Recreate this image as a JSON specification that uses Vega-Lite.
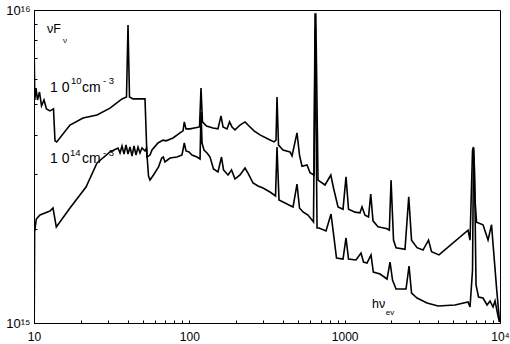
{
  "$schema": "https://vega.github.io/schema/vega-lite/v6.json",
  "width": 466,
  "height": 313,
  "autosize": "none",
  "padding": {"left": 34, "top": 10, "right": 10, "bottom": 21},
  "background": "white",
  "config": {
    "view": {"stroke": "black", "strokeWidth": 1},
    "font": "Liberation Sans"
  },
  "datasets": {
    "spectra": [
      {"eV": 10.04, "nuFnu": 6.92e15, "density": "1e10"},
      {"eV": 10.12, "nuFnu": 5.16e15, "density": "1e10"},
      {"eV": 10.30, "nuFnu": 5.63e15, "density": "1e10"},
      {"eV": 10.53, "nuFnu": 5.16e15, "density": "1e10"},
      {"eV": 10.85, "nuFnu": 5.47e15, "density": "1e10"},
      {"eV": 11.18, "nuFnu": 4.94e15, "density": "1e10"},
      {"eV": 11.60, "nuFnu": 5.16e15, "density": "1e10"},
      {"eV": 12.03, "nuFnu": 4.83e15, "density": "1e10"},
      {"eV": 12.67, "nuFnu": 4.76e15, "density": "1e10"},
      {"eV": 13.35, "nuFnu": 4.83e15, "density": "1e10"},
      {"eV": 13.65, "nuFnu": 3.82e15, "density": "1e10"},
      {"eV": 14.00, "nuFnu": 3.79e15, "density": "1e10"},
      {"eV": 17.05, "nuFnu": 4.29e15, "density": "1e10"},
      {"eV": 20.68, "nuFnu": 4.52e15, "density": "1e10"},
      {"eV": 25.45, "nuFnu": 4.62e15, "density": "1e10"},
      {"eV": 30.85, "nuFnu": 4.86e15, "density": "1e10"},
      {"eV": 36.86, "nuFnu": 5.20e15, "density": "1e10"},
      {"eV": 39.40, "nuFnu": 5.27e15, "density": "1e10"},
      {"eV": 40.29, "nuFnu": 8.96e15, "density": "1e10"},
      {"eV": 41.19, "nuFnu": 5.27e15, "density": "1e10"},
      {"eV": 43.40, "nuFnu": 5.20e15, "density": "1e10"},
      {"eV": 51.83, "nuFnu": 5.20e15, "density": "1e10"},
      {"eV": 53.39, "nuFnu": 3.39e15, "density": "1e10"},
      {"eV": 55.83, "nuFnu": 3.44e15, "density": "1e10"},
      {"eV": 57.50, "nuFnu": 3.57e15, "density": "1e10"},
      {"eV": 62.85, "nuFnu": 3.76e15, "density": "1e10"},
      {"eV": 67.70, "nuFnu": 3.84e15, "density": "1e10"},
      {"eV": 70.77, "nuFnu": 3.82e15, "density": "1e10"},
      {"eV": 78.50, "nuFnu": 3.90e15, "density": "1e10"},
      {"eV": 87.10, "nuFnu": 4.05e15, "density": "1e10"},
      {"eV": 91.07, "nuFnu": 4.11e15, "density": "1e10"},
      {"eV": 92.83, "nuFnu": 4.39e15, "density": "1e10"},
      {"eV": 95.20, "nuFnu": 4.17e15, "density": "1e10"},
      {"eV": 101.0, "nuFnu": 4.17e15, "density": "1e10"},
      {"eV": 116.3, "nuFnu": 4.23e15, "density": "1e10"},
      {"eV": 118.9, "nuFnu": 5.63e15, "density": "1e10"},
      {"eV": 121.5, "nuFnu": 4.39e15, "density": "1e10"},
      {"eV": 129.0, "nuFnu": 4.26e15, "density": "1e10"},
      {"eV": 142.0, "nuFnu": 4.20e15, "density": "1e10"},
      {"eV": 152.9, "nuFnu": 4.17e15, "density": "1e10"},
      {"eV": 159.9, "nuFnu": 4.59e15, "density": "1e10"},
      {"eV": 164.8, "nuFnu": 4.23e15, "density": "1e10"},
      {"eV": 174.8, "nuFnu": 4.17e15, "density": "1e10"},
      {"eV": 181.4, "nuFnu": 4.39e15, "density": "1e10"},
      {"eV": 188.3, "nuFnu": 4.23e15, "density": "1e10"},
      {"eV": 196.8, "nuFnu": 4.14e15, "density": "1e10"},
      {"eV": 212.0, "nuFnu": 4.29e15, "density": "1e10"},
      {"eV": 228.3, "nuFnu": 4.39e15, "density": "1e10"},
      {"eV": 242.3, "nuFnu": 4.26e15, "density": "1e10"},
      {"eV": 260.9, "nuFnu": 4.11e15, "density": "1e10"},
      {"eV": 285.1, "nuFnu": 3.99e15, "density": "1e10"},
      {"eV": 321.0, "nuFnu": 3.87e15, "density": "1e10"},
      {"eV": 350.9, "nuFnu": 3.79e15, "density": "1e10"},
      {"eV": 361.4, "nuFnu": 3.84e15, "density": "1e10"},
      {"eV": 366.8, "nuFnu": 5.27e15, "density": "1e10"},
      {"eV": 375.1, "nuFnu": 3.70e15, "density": "1e10"},
      {"eV": 401.0, "nuFnu": 3.57e15, "density": "1e10"},
      {"eV": 444.8, "nuFnu": 3.52e15, "density": "1e10"},
      {"eV": 458.2, "nuFnu": 3.42e15, "density": "1e10"},
      {"eV": 493.4, "nuFnu": 4.05e15, "density": "1e10"},
      {"eV": 512.0, "nuFnu": 3.44e15, "density": "1e10"},
      {"eV": 531.3, "nuFnu": 3.17e15, "density": "1e10"},
      {"eV": 572.4, "nuFnu": 3.20e15, "density": "1e10"},
      {"eV": 598.4, "nuFnu": 3.02e15, "density": "1e10"},
      {"eV": 635.0, "nuFnu": 2.97e15, "density": "1e10"},
      {"eV": 644.5, "nuFnu": 9.70e15, "density": "1e10"},
      {"eV": 652.0, "nuFnu": 9.70e15, "density": "1e10"},
      {"eV": 673.8, "nuFnu": 2.86e15, "density": "1e10"},
      {"eV": 747.3, "nuFnu": 2.76e15, "density": "1e10"},
      {"eV": 814.3, "nuFnu": 2.97e15, "density": "1e10"},
      {"eV": 847.6, "nuFnu": 2.70e15, "density": "1e10"},
      {"eV": 906.2, "nuFnu": 2.35e15, "density": "1e10"},
      {"eV": 976.0, "nuFnu": 2.31e15, "density": "1e10"},
      {"eV": 1020, "nuFnu": 2.93e15, "density": "1e10"},
      {"eV": 1059, "nuFnu": 2.31e15, "density": "1e10"},
      {"eV": 1166, "nuFnu": 2.26e15, "density": "1e10"},
      {"eV": 1255, "nuFnu": 2.25e15, "density": "1e10"},
      {"eV": 1293, "nuFnu": 2.35e15, "density": "1e10"},
      {"eV": 1352, "nuFnu": 2.21e15, "density": "1e10"},
      {"eV": 1424, "nuFnu": 2.18e15, "density": "1e10"},
      {"eV": 1472, "nuFnu": 2.58e15, "density": "1e10"},
      {"eV": 1522, "nuFnu": 2.12e15, "density": "1e10"},
      {"eV": 1639, "nuFnu": 2.03e15, "density": "1e10"},
      {"eV": 1874, "nuFnu": 2.00e15, "density": "1e10"},
      {"eV": 1939, "nuFnu": 1.98e15, "density": "1e10"},
      {"eV": 1989, "nuFnu": 2.86e15, "density": "1e10"},
      {"eV": 2063, "nuFnu": 1.84e15, "density": "1e10"},
      {"eV": 2141, "nuFnu": 1.74e15, "density": "1e10"},
      {"eV": 2446, "nuFnu": 1.72e15, "density": "1e10"},
      {"eV": 2585, "nuFnu": 2.53e15, "density": "1e10"},
      {"eV": 2695, "nuFnu": 1.84e15, "density": "1e10"},
      {"eV": 2923, "nuFnu": 1.74e15, "density": "1e10"},
      {"eV": 3194, "nuFnu": 1.71e15, "density": "1e10"},
      {"eV": 3466, "nuFnu": 1.84e15, "density": "1e10"},
      {"eV": 3624, "nuFnu": 1.69e15, "density": "1e10"},
      {"eV": 4050, "nuFnu": 1.65e15, "density": "1e10"},
      {"eV": 6225, "nuFnu": 1.98e15, "density": "1e10"},
      {"eV": 6412, "nuFnu": 1.84e15, "density": "1e10"},
      {"eV": 6655, "nuFnu": 3.57e15, "density": "1e10"},
      {"eV": 6754, "nuFnu": 3.65e15, "density": "1e10"},
      {"eV": 6907, "nuFnu": 2.47e15, "density": "1e10"},
      {"eV": 7061, "nuFnu": 2.10e15, "density": "1e10"},
      {"eV": 7775, "nuFnu": 2.06e15, "density": "1e10"},
      {"eV": 8375, "nuFnu": 1.84e15, "density": "1e10"},
      {"eV": 8820, "nuFnu": 2.06e15, "density": "1e10"},
      {"eV": 9085, "nuFnu": 1.71e15, "density": "1e10"},
      {"eV": 9497, "nuFnu": 1.30e15, "density": "1e10"},
      {"eV": 9929, "nuFnu": 1.01e15, "density": "1e10"},

      {"eV": 10.03, "nuFnu": 1.015e15, "density": "1e14"},
      {"eV": 10.09, "nuFnu": 1.953e15, "density": "1e14"},
      {"eV": 10.35, "nuFnu": 2.149e15, "density": "1e14"},
      {"eV": 10.93, "nuFnu": 2.213e15, "density": "1e14"},
      {"eV": 11.77, "nuFnu": 2.246e15, "density": "1e14"},
      {"eV": 12.67, "nuFnu": 2.279e15, "density": "1e14"},
      {"eV": 13.25, "nuFnu": 2.330e15, "density": "1e14"},
      {"eV": 13.92, "nuFnu": 2.026e15, "density": "1e14"},
      {"eV": 17.05, "nuFnu": 2.330e15, "density": "1e14"},
      {"eV": 21.62, "nuFnu": 2.720e15, "density": "1e14"},
      {"eV": 25.45, "nuFnu": 3.245e15, "density": "1e14"},
      {"eV": 30.85, "nuFnu": 3.518e15, "density": "1e14"},
      {"eV": 34.75, "nuFnu": 3.623e15, "density": "1e14"},
      {"eV": 35.79, "nuFnu": 3.492e15, "density": "1e14"},
      {"eV": 36.86, "nuFnu": 3.677e15, "density": "1e14"},
      {"eV": 37.97, "nuFnu": 3.467e15, "density": "1e14"},
      {"eV": 39.12, "nuFnu": 3.704e15, "density": "1e14"},
      {"eV": 40.29, "nuFnu": 3.467e15, "density": "1e14"},
      {"eV": 41.50, "nuFnu": 3.650e15, "density": "1e14"},
      {"eV": 42.75, "nuFnu": 3.416e15, "density": "1e14"},
      {"eV": 44.04, "nuFnu": 3.677e15, "density": "1e14"},
      {"eV": 45.37, "nuFnu": 3.441e15, "density": "1e14"},
      {"eV": 46.73, "nuFnu": 3.650e15, "density": "1e14"},
      {"eV": 48.13, "nuFnu": 3.492e15, "density": "1e14"},
      {"eV": 49.59, "nuFnu": 3.623e15, "density": "1e14"},
      {"eV": 51.83, "nuFnu": 3.544e15, "density": "1e14"},
      {"eV": 53.00, "nuFnu": 3.623e15, "density": "1e14"},
      {"eV": 54.60, "nuFnu": 2.949e15, "density": "1e14"},
      {"eV": 55.83, "nuFnu": 2.863e15, "density": "1e14"},
      {"eV": 58.79, "nuFnu": 2.971e15, "density": "1e14"},
      {"eV": 63.35, "nuFnu": 3.151e15, "density": "1e14"},
      {"eV": 66.39, "nuFnu": 3.366e15, "density": "1e14"},
      {"eV": 67.98, "nuFnu": 3.391e15, "density": "1e14"},
      {"eV": 69.72, "nuFnu": 3.269e15, "density": "1e14"},
      {"eV": 75.08, "nuFnu": 3.366e15, "density": "1e14"},
      {"eV": 83.27, "nuFnu": 3.391e15, "density": "1e14"},
      {"eV": 89.70, "nuFnu": 3.441e15, "density": "1e14"},
      {"eV": 92.83, "nuFnu": 3.759e15, "density": "1e14"},
      {"eV": 95.20, "nuFnu": 3.544e15, "density": "1e14"},
      {"eV": 99.52, "nuFnu": 3.518e15, "density": "1e14"},
      {"eV": 104.0, "nuFnu": 3.441e15, "density": "1e14"},
      {"eV": 112.1, "nuFnu": 3.391e15, "density": "1e14"},
      {"eV": 117.2, "nuFnu": 3.342e15, "density": "1e14"},
      {"eV": 118.9, "nuFnu": 4.722e15, "density": "1e14"},
      {"eV": 120.7, "nuFnu": 3.759e15, "density": "1e14"},
      {"eV": 124.3, "nuFnu": 3.570e15, "density": "1e14"},
      {"eV": 130.0, "nuFnu": 3.492e15, "density": "1e14"},
      {"eV": 135.9, "nuFnu": 3.391e15, "density": "1e14"},
      {"eV": 143.1, "nuFnu": 3.105e15, "density": "1e14"},
      {"eV": 152.9, "nuFnu": 3.037e15, "density": "1e14"},
      {"eV": 161.1, "nuFnu": 3.391e15, "density": "1e14"},
      {"eV": 166.0, "nuFnu": 3.082e15, "density": "1e14"},
      {"eV": 177.4, "nuFnu": 2.971e15, "density": "1e14"},
      {"eV": 186.9, "nuFnu": 3.082e15, "density": "1e14"},
      {"eV": 196.8, "nuFnu": 2.884e15, "density": "1e14"},
      {"eV": 212.0, "nuFnu": 2.971e15, "density": "1e14"},
      {"eV": 228.3, "nuFnu": 3.128e15, "density": "1e14"},
      {"eV": 240.4, "nuFnu": 2.992e15, "density": "1e14"},
      {"eV": 257.0, "nuFnu": 2.801e15, "density": "1e14"},
      {"eV": 276.8, "nuFnu": 2.740e15, "density": "1e14"},
      {"eV": 298.2, "nuFnu": 2.700e15, "density": "1e14"},
      {"eV": 330.7, "nuFnu": 2.621e15, "density": "1e14"},
      {"eV": 358.8, "nuFnu": 2.545e15, "density": "1e14"},
      {"eV": 366.8, "nuFnu": 3.650e15, "density": "1e14"},
      {"eV": 377.9, "nuFnu": 2.472e15, "density": "1e14"},
      {"eV": 413.0, "nuFnu": 2.417e15, "density": "1e14"},
      {"eV": 465.1, "nuFnu": 2.348e15, "density": "1e14"},
      {"eV": 493.4, "nuFnu": 2.780e15, "density": "1e14"},
      {"eV": 512.0, "nuFnu": 2.330e15, "density": "1e14"},
      {"eV": 539.3, "nuFnu": 2.263e15, "density": "1e14"},
      {"eV": 580.8, "nuFnu": 2.213e15, "density": "1e14"},
      {"eV": 630.0, "nuFnu": 2.102e15, "density": "1e14"},
      {"eV": 646.0, "nuFnu": 8.63e15, "density": "1e14"},
      {"eV": 664.0, "nuFnu": 2.011e15, "density": "1e14"},
      {"eV": 683.8, "nuFnu": 2.011e15, "density": "1e14"},
      {"eV": 758.4, "nuFnu": 1.968e15, "density": "1e14"},
      {"eV": 817.0, "nuFnu": 2.230e15, "density": "1e14"},
      {"eV": 847.6, "nuFnu": 1.925e15, "density": "1e14"},
      {"eV": 886.1, "nuFnu": 1.613e15, "density": "1e14"},
      {"eV": 976.0, "nuFnu": 1.601e15, "density": "1e14"},
      {"eV": 1020, "nuFnu": 1.869e15, "density": "1e14"},
      {"eV": 1059, "nuFnu": 1.601e15, "density": "1e14"},
      {"eV": 1183, "nuFnu": 1.590e15, "density": "1e14"},
      {"eV": 1274, "nuFnu": 1.673e15, "density": "1e14"},
      {"eV": 1322, "nuFnu": 1.566e15, "density": "1e14"},
      {"eV": 1393, "nuFnu": 1.555e15, "density": "1e14"},
      {"eV": 1478, "nuFnu": 1.649e15, "density": "1e14"},
      {"eV": 1529, "nuFnu": 1.455e15, "density": "1e14"},
      {"eV": 1689, "nuFnu": 1.434e15, "density": "1e14"},
      {"eV": 1874, "nuFnu": 1.382e15, "density": "1e14"},
      {"eV": 1959, "nuFnu": 1.566e15, "density": "1e14"},
      {"eV": 2033, "nuFnu": 1.372e15, "density": "1e14"},
      {"eV": 2141, "nuFnu": 1.284e15, "density": "1e14"},
      {"eV": 2483, "nuFnu": 1.284e15, "density": "1e14"},
      {"eV": 2597, "nuFnu": 1.521e15, "density": "1e14"},
      {"eV": 2695, "nuFnu": 1.247e15, "density": "1e14"},
      {"eV": 2923, "nuFnu": 1.202e15, "density": "1e14"},
      {"eV": 3390, "nuFnu": 1.159e15, "density": "1e14"},
      {"eV": 3990, "nuFnu": 1.133e15, "density": "1e14"},
      {"eV": 5134, "nuFnu": 1.142e15, "density": "1e14"},
      {"eV": 6225, "nuFnu": 1.167e15, "density": "1e14"},
      {"eV": 6412, "nuFnu": 1.125e15, "density": "1e14"},
      {"eV": 6655, "nuFnu": 1.477e15, "density": "1e14"},
      {"eV": 6754, "nuFnu": 3.623e15, "density": "1e14"},
      {"eV": 6855, "nuFnu": 3.082e15, "density": "1e14"},
      {"eV": 7009, "nuFnu": 1.323e15, "density": "1e14"},
      {"eV": 7274, "nuFnu": 1.211e15, "density": "1e14"},
      {"eV": 7775, "nuFnu": 1.202e15, "density": "1e14"},
      {"eV": 8251, "nuFnu": 1.142e15, "density": "1e14"},
      {"eV": 8628, "nuFnu": 1.176e15, "density": "1e14"},
      {"eV": 9018, "nuFnu": 1.125e15, "density": "1e14"},
      {"eV": 9290, "nuFnu": 1.176e15, "density": "1e14"},
      {"eV": 9712, "nuFnu": 1.053e15, "density": "1e14"},
      {"eV": 9929, "nuFnu": 1.007e15, "density": "1e14"}
    ],
    "labels": [
      {"eV": 12.12, "nuFnu": 8.443e15, "text": "νF", "role": "sym"},
      {"eV": 15.37, "nuFnu": 7.845e15, "text": "ν", "role": "sub"},
      {"eV": 12.67, "nuFnu": 5.470e15, "text": "1 0", "role": "main"},
      {"eV": 17.30, "nuFnu": 5.802e15, "text": "10", "role": "sup"},
      {"eV": 20.37, "nuFnu": 5.470e15, "text": "cm", "role": "main"},
      {"eV": 27.81, "nuFnu": 5.802e15, "text": "- 3", "role": "sup"},
      {"eV": 12.67, "nuFnu": 3.245e15, "text": "1 0", "role": "main"},
      {"eV": 17.05, "nuFnu": 3.416e15, "text": "14", "role": "sup"},
      {"eV": 20.37, "nuFnu": 3.245e15, "text": "cm", "role": "main"},
      {"eV": 27.81, "nuFnu": 3.416e15, "text": "- 3", "role": "sup"},
      {"eV": 1500, "nuFnu": 1.1167e15, "text": "hν", "role": "sym"},
      {"eV": 1840, "nuFnu": 1.060e15, "text": "ev", "role": "sub"}
    ]
  },
  "encoding": {
    "x": {
      "field": "eV", "type": "quantitative",
      "scale": {"type": "log", "domain": [10, 10000], "nice": false},
      "axis": {
        "title": null, "grid": false,
        "values": [10, 20, 30, 40, 50, 60, 70, 80, 90, 100, 200, 300, 400, 500, 600, 700, 800, 900, 1000, 2000, 3000, 4000, 5000, 6000, 7000, 8000, 9000, 10000],
        "labelExpr": "datum.value == 10 ? '10' : datum.value == 100 ? '100' : datum.value == 1000 ? '1000' : datum.value == 10000 ? '10⁴' : ''",
        "tickSize": -3, "tickColor": "black", "domainColor": "black",
        "labelPadding": 11, "labelFlush": false, "labelOverlap": false,
        "labelFont": "Liberation Sans", "labelFontSize": 12, "labelColor": "black"
      }
    },
    "y": {
      "field": "nuFnu", "type": "quantitative",
      "scale": {"type": "log", "domain": [1e15, 1e16], "nice": false},
      "axis": {
        "title": null, "grid": false,
        "values": [1e15, 2e15, 3e15, 4e15, 5e15, 6e15, 7e15, 8e15, 9e15, 1e16],
        "labelExpr": "datum.value == 1e15 ? '10¹⁵' : datum.value == 1e16 ? '10¹⁶' : ''",
        "tickSize": -3, "tickColor": "black", "domainColor": "black",
        "labelPadding": 7, "labelFlush": false, "labelOverlap": false,
        "labelFont": "Liberation Sans", "labelFontSize": 13, "labelColor": "black"
      }
    }
  },
  "layer": [
    {
      "data": {"name": "spectra"},
      "mark": {"type": "line", "color": "black", "strokeWidth": 1.6, "clip": true},
      "encoding": {"detail": {"field": "density"}}
    },
    {
      "data": {"name": "labels"},
      "transform": [{"filter": "datum.role == 'main'"}],
      "mark": {"type": "text", "align": "left", "baseline": "alphabetic", "font": "Liberation Sans", "fontSize": 14, "color": "black"},
      "encoding": {"text": {"field": "text"}}
    },
    {
      "data": {"name": "labels"},
      "transform": [{"filter": "datum.role == 'sup'"}],
      "mark": {"type": "text", "align": "left", "baseline": "alphabetic", "font": "Liberation Sans", "fontSize": 9.5, "color": "black"},
      "encoding": {"text": {"field": "text"}}
    },
    {
      "data": {"name": "labels"},
      "transform": [{"filter": "datum.role == 'sym'"}],
      "mark": {"type": "text", "align": "left", "baseline": "alphabetic", "font": "Liberation Sans", "fontSize": 12.5, "color": "black"},
      "encoding": {"text": {"field": "text"}}
    },
    {
      "data": {"name": "labels"},
      "transform": [{"filter": "datum.role == 'sub'"}],
      "mark": {"type": "text", "align": "left", "baseline": "alphabetic", "font": "Liberation Sans", "fontSize": 8, "color": "black"},
      "encoding": {"text": {"field": "text"}}
    }
  ]
}
